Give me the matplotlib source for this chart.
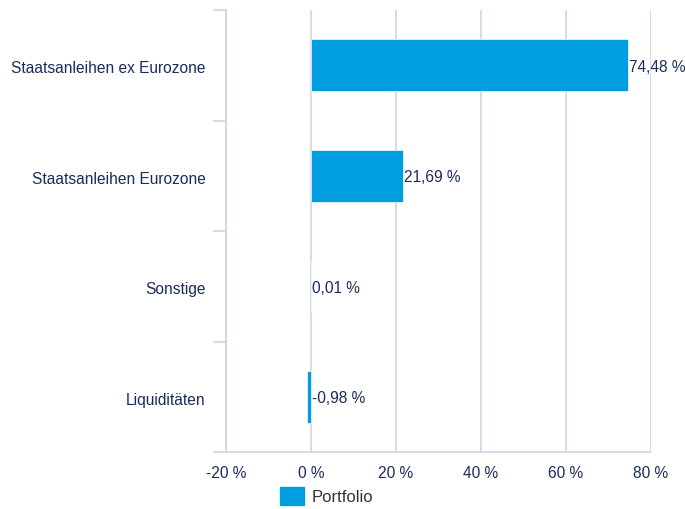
import numpy as np
import matplotlib.pyplot as plt
from matplotlib.patches import Patch

plt.rcParams["font.family"] = ["Liberation Sans", "DejaVu Sans"]

categories = ["Staatsanleihen ex Eurozone", "Staatsanleihen Eurozone", "Sonstige", "Liquiditäten"]
values = [74.48, 21.69, 0.01, -0.98]
labels = ["74,48 %", "21,69 %", "0,01 %", "-0,98 %"]
xticks = [-20, 0, 20, 40, 60, 80]
xticklabels = ["-20 %", "0 %", "20 %", "40 %", "60 %", "80 %"]

navy = "#1b2b5c"
grid_c = "#c9d5e8"
bar_c = "#009ee0"
fs = 11.2

fig = plt.figure(figsize=(6.85, 5.09), dpi=100)
ax = fig.add_axes([226 / 685, 1 - 452 / 509, 425 / 685, 442 / 509])

y = np.arange(len(categories))
ax.barh(y, values, height=0.47, color=bar_c, edgecolor="#e6f4fb", linewidth=0.6, zorder=3)

for yi, v, lab in zip(y, values, labels):
    ax.text(max(v, 0) + 0.3, yi + 0.02, lab, va="center", ha="left", fontsize=fs, color=navy, zorder=4)

ax.set_xlim(-20, 80)
ax.set_ylim(len(categories) - 0.5, -0.5)
ax.set_xticks(xticks)
ax.set_xticklabels(xticklabels)
ax.xaxis.grid(True, color=grid_c, linewidth=1.2, zorder=0)
ax.tick_params(axis="x", length=0, pad=10, labelsize=fs, labelcolor=navy)

# category ticks sit at band edges, labels at band centres
ax.set_yticks(np.arange(-0.5, len(categories), 1.0))
ax.set_yticklabels([])
ax.set_yticks(y + 0.02, minor=True)
ax.set_yticklabels(categories, minor=True)
ax.tick_params(axis="y", which="major", length=9.5, width=1.2, color=grid_c)
ax.tick_params(axis="y", which="minor", length=0, pad=14.5, labelsize=fs, labelcolor=navy)

for s in ["top", "right"]:
    ax.spines[s].set_visible(False)
ax.spines["left"].set_color(grid_c)
ax.spines["left"].set_linewidth(1.2)
ax.spines["bottom"].set_color(grid_c)
ax.spines["bottom"].set_linewidth(1.2)

handles = [Patch(facecolor=bar_c, edgecolor=bar_c, label="Portfolio")]
fig.legend(handles=handles, loc="lower center", bbox_to_anchor=(327 / 685, -0.022), frameon=False,
           fontsize=12, handlelength=1.4, handleheight=1.3, handletextpad=0.5, labelcolor="#333333")

fig.savefig("out.png", dpi=100)
